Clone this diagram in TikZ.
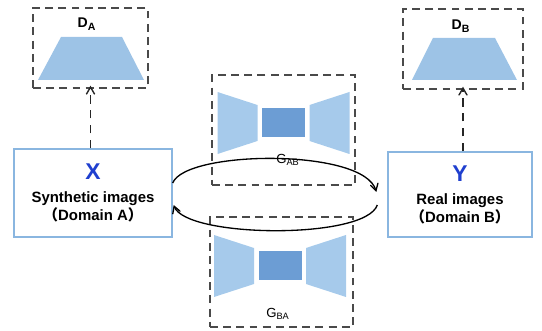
\documentclass[tikz,border=0pt]{standalone}
\usepackage{fontspec}
\setmainfont{Liberation Sans}
\newfontfamily\cjk{Noto Sans CJK SC}
\usepackage{tikz}
\usetikzlibrary{arrows,positioning,calc}

\definecolor{bleuTrapeze}{HTML}{9DC3E6}
\definecolor{bleuCote}{HTML}{A6CAEB}
\definecolor{bleuCentre}{HTML}{6C9DD4}
\definecolor{bleuBord}{HTML}{8AB6E0}
\definecolor{bleuLettre}{HTML}{1F3FCF}
\definecolor{grisCadre}{HTML}{4A4A4A}

% un generateur (encodeur - goulot - decodeur)
\newcommand{\Generateur}[2]{%
  \begin{scope}[shift={(#1,#2)}]
    \fill[bleuCote] (-66,-31) -- (-26,-18) -- (-26,18) -- (-66,31) -- cycle;
    \fill[bleuCentre] (-21.5,-14.5) rectangle (21.5,14.5);
    \fill[bleuCote] (66,-31) -- (26,-18) -- (26,18) -- (66,31) -- cycle;
  \end{scope}}

\begin{document}
\begin{tikzpicture}[x=0.02cm,y=-0.02cm]
\tikzstyle{cadre}=[draw=grisCadre,line width=0.8pt,dash pattern=on 4.5pt off 3pt,inner sep=0pt]
\tikzstyle{domaine}=[draw=bleuBord,line width=0.8pt,fill=white,align=center,inner sep=0pt,
  font=\fontsize{8.5}{10.2}\selectfont\bfseries]
\tikzstyle{fleche}=[->,>=angle 60,line width=0.75pt]
\tikzstyle{flechepointillee}=[->,>=angle 60,line width=0.8pt,draw=black!85,dash pattern=on 5pt off 3.5pt]
\tikzstyle{etiquette}=[font=\fontsize{8}{9}\selectfont\bfseries,inner sep=0pt]
\tikzstyle{etiquetteG}=[font=\fontsize{7.5}{9}\selectfont,inner sep=0pt]
\useasboundingbox (0,0) rectangle (542,331);
% discriminateurs
\node[cadre,minimum width=2.3cm,minimum height=1.6cm] (DA) at (90.5,48) {};
\node[cadre,minimum width=2.4cm,minimum height=1.6cm] (DB) at (463,49) {};
\fill[bleuTrapeze] (61,37) -- (122,37) -- (144,80) -- (38,80) -- cycle;
\fill[bleuTrapeze] (433,38) -- (495,38) -- (517,80) -- (412,80) -- cycle;
\node[etiquette] (labDA) at (87,24) {D\textsubscript{A}};
\node[etiquette] (labDB) at (461,26) {D\textsubscript{B}};
% generateurs
\node[cadre,minimum width=2.86cm,minimum height=2.2cm] (GAB) at (283.5,130) {};
\node[cadre,minimum width=2.86cm,minimum height=2.2cm] (GBA) at (281.5,272) {};
\Generateur{283.5}{123}
\Generateur{280}{266}
\node[etiquetteG] (labGAB) at (288,160) {G\textsubscript{AB}};
\node[etiquetteG] (labGBA) at (278,314) {G\textsubscript{BA}};
% domaines
\node[domaine,minimum width=3.16cm,minimum height=1.76cm] (X) at (93,193)
  {{\fontsize{13}{14}\selectfont\color{bleuLettre}X}\\[3pt]
   Synthetic images\\{\cjk （}Domain A{\cjk ）}};
\node[domaine,minimum width=2.88cm,minimum height=1.7cm] (Y) at (460,194.5)
  {{\fontsize{13}{14}\selectfont\color{bleuLettre}Y}\\[3pt]
   Real images\\{\cjk （}Domain B{\cjk ）}};
% fleches
\draw[flechepointillee] (X.north -| DA.south) -- ($(DA.south)+(0,-3)$);
\draw[flechepointillee] (Y.north -| DB.south) -- ($(DB.south)+(0,-3)$);
\draw[fleche] ($(X.east)+(0,-10)$) .. controls +(13,-33) and +(-12,-44) .. ($(Y.west)+(-11,-2.5)$);
\draw[fleche] ($(Y.west)+(-10,10.5)$) .. controls +(-12,35) and +(12,33) .. ($(X.east)+(1,12)$);
\end{tikzpicture}
\end{document}
